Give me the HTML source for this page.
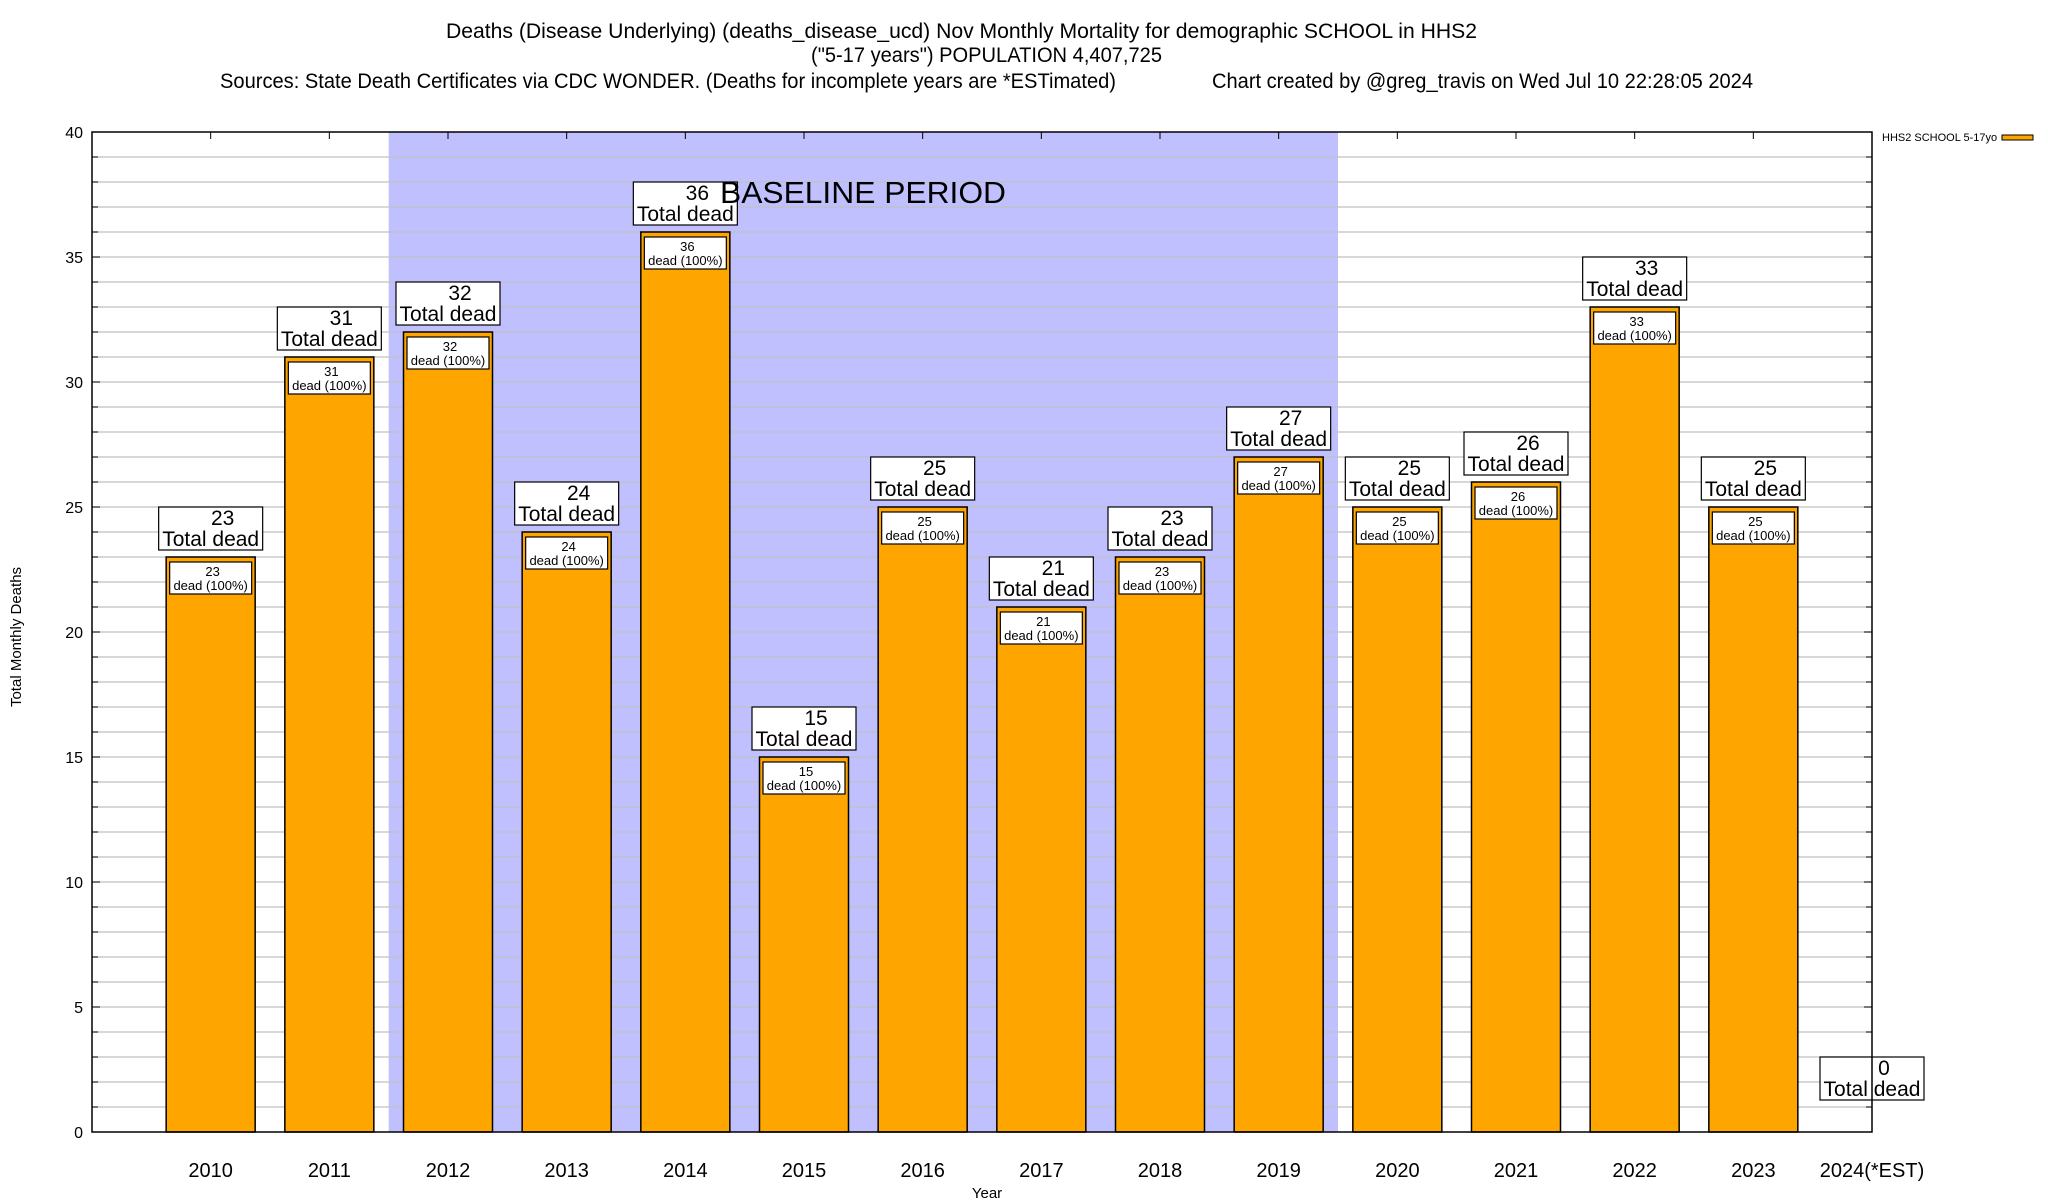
<!DOCTYPE html>
<html><head><meta charset="utf-8"><style>
html,body{margin:0;padding:0;background:#fff;}
svg{display:block;font-family:"Liberation Sans",sans-serif;}
</style></head><body>
<svg id="chart" width="2048" height="1200" viewBox="0 0 2048 1200">
<g font-size="21" fill="#000">
<text x="446" y="38" textLength="1031" lengthAdjust="spacingAndGlyphs">Deaths (Disease Underlying) (deaths_disease_ucd) Nov Monthly Mortality for demographic SCHOOL in HHS2</text>
<text x="811" y="62" textLength="351" lengthAdjust="spacingAndGlyphs">("5-17 years") POPULATION 4,407,725</text>
<text x="220" y="88" textLength="896" lengthAdjust="spacingAndGlyphs">Sources: State Death Certificates via CDC WONDER. (Deaths for incomplete years are *ESTimated)</text>
<text x="1212" y="88" textLength="541" lengthAdjust="spacingAndGlyphs">Chart created by @greg_travis on Wed Jul 10 22:28:05 2024</text>
</g>
<g id="plot"></g>
<text x="21" y="637" font-size="15" text-anchor="middle" transform="rotate(-90 21 637)">Total Monthly Deaths</text>
<text x="987" y="1198" font-size="15" text-anchor="middle">Year</text>
<g>
<text x="1882" y="141" font-size="11">HHS2 SCHOOL 5-17yo</text>
<rect x="2002" y="135" width="31" height="5" fill="#ffa500" stroke="#000" stroke-width="1"></rect>
</g>
</svg>
<script>
const years = ['2010','2011','2012','2013','2014','2015','2016','2017','2018','2019','2020','2021','2022','2023','2024(*EST)'];
const deaths = [23,31,32,24,36,15,25,21,23,27,25,26,33,25,0];
const yTicks = [0,5,10,15,20,25,30,35,40];
const baselineStart = 2.5;
const baselineEnd = 10.5;

const NS='http://www.w3.org/2000/svg';
const L=92,R=1872,T=132,B=1132,YMAX=40;
const step=(R-L)/15;
function xs(i){return L+(i+1)*step;}
function ys(v){return B-(v/YMAX)*(B-T);}
const g=document.getElementById('plot');
function mk(tag,attrs,parent){const e=document.createElementNS(NS,tag);for(const k in attrs)e.setAttribute(k,attrs[k]);(parent||g).appendChild(e);return e;}

let sh=mk('rect',{x:xs(baselineStart-1),y:T,width:xs(baselineEnd-1)-xs(baselineStart-1),height:B-T,fill:'#c0c0ff'});



for(let v=1;v<YMAX;v++){
  let gl=mk('line',{x1:L,x2:R,y1:ys(v),y2:ys(v),stroke:'#c0c0c0','stroke-width':1.2});
  
  
  let t1=mk('line',{x1:L,x2:L+(v%5===0?8:6),y1:ys(v),y2:ys(v),stroke:'#000','stroke-width':1});
  
  
  let t2=mk('line',{x1:R,x2:R-(v%5===0?8:6),y1:ys(v),y2:ys(v),stroke:'#000','stroke-width':1});
  
  
}
yTicks.forEach(v=>{
  let t=mk('text',{x:L-9,y:ys(v)+6,'font-size':16,'text-anchor':'end'});
  t.textContent=v;
  
  
});

years.forEach((yr,i)=>{
  const cx=xs(i), v=deaths[i], top=ys(v);
  let tk=mk('line',{x1:cx,x2:cx,y1:T,y2:T+7,stroke:'#000','stroke-width':1});
  
  
  let xl=mk('text',{x:cx,y:1177,'font-size':20,'text-anchor':'middle'});
  xl.textContent=yr;
  
  
  if(v>0){
    let b=mk('rect',{x:cx-44.5,y:top,width:89,height:B-top,fill:'#ffa500',stroke:'#000','stroke-width':1.5});
    
    
    let ib=mk('rect',{x:cx-41,y:top+5,width:82,height:32,fill:'#fff',stroke:'#000','stroke-width':1.2});
    
    
    let it1=mk('text',{x:cx+2,y:top+19,'font-size':13,'text-anchor':'middle'});
    it1.textContent=v;
    
    
    let it2=mk('text',{x:cx,y:top+33,'font-size':13,'text-anchor':'middle'});
    it2.textContent='dead (100%)';
    
    
  }
  const bottom = v>0 ? top-7 : B-32;
  let ob=mk('rect',{x:cx-52,y:bottom-43,width:104,height:43,fill:'#fff',stroke:'#000','stroke-width':1.2});
  
  
  let ot1=mk('text',{x:cx+12,y:bottom-25,'font-size':21,'text-anchor':'middle'});
  ot1.textContent=v;
  
  
  let ot2=mk('text',{x:cx,y:bottom-4,'font-size':21,'text-anchor':'middle'});
  ot2.textContent='Total dead';
  
  
});

let bt=mk('text',{x:720,y:203,'font-size':31,textLength:286,lengthAdjust:'spacingAndGlyphs'});
bt.textContent='BASELINE PERIOD';



let fr=mk('rect',{x:L,y:T,width:R-L,height:B-T,fill:'none',stroke:'#000','stroke-width':1.5});


</script>
</body></html>
